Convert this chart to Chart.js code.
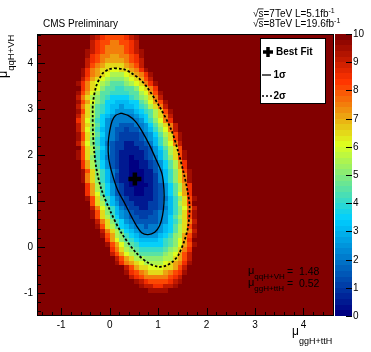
<!DOCTYPE html>
<html>
<head>
<meta charset="utf-8">
<script src="https://cdn.jsdelivr.net/npm/chart.js@4.4.1/dist/chart.umd.min.js"></script>
<style>
  html, body { margin: 0; padding: 0; background: #fff; }
  #wrap { width: 371px; height: 352px; position: relative; }
</style>
</head>
<body>
<div id="wrap"><canvas id="scan"></canvas></div>
<script>
const FONT = "'Liberation Sans', Arial, Helvetica, sans-serif";

// best fit point (mu_ggH+ttH, mu_qqH+VH)
const bestFitX = [0.52];
const bestFitY = [1.48];

// 68% CL contour
const sigma1X = [0.24, 0.38, 0.53, 0.66, 0.82, 0.95, 1.08, 1.12, 1.12, 1.09, 1.03, 0.93, 0.79, 0.66, 0.56, 0.45, 0.32, 0.16, 0.05, -0.02, -0.03, 0.00, 0.05, 0.12, 0.24];
const sigma1Y = [2.91, 2.86, 2.73, 2.53, 2.22, 1.92, 1.59, 1.25, 0.95, 0.68, 0.46, 0.32, 0.27, 0.31, 0.45, 0.66, 0.93, 1.25, 1.60, 1.93, 2.25, 2.52, 2.74, 2.86, 2.91];

// 95% CL contour
const sigma2X = [0.10, 0.30, 0.45, 0.62, 0.76, 1.03, 1.27, 1.42, 1.53, 1.61, 1.65, 1.62, 1.55, 1.42, 1.30, 1.15, 1.00, 0.80, 0.55, 0.24, 0.00, -0.17, -0.27, -0.32, -0.345, -0.35, -0.345, -0.28, -0.20, -0.14, -0.02, 0.10];
const sigma2Y = [3.89, 3.86, 3.78, 3.65, 3.49, 3.05, 2.55, 2.05, 1.60, 1.20, 0.88, 0.45, 0.16, -0.17, -0.32, -0.41, -0.43, -0.35, -0.13, 0.31, 0.81, 1.25, 1.68, 2.10, 2.48, 2.85, 3.13, 3.49, 3.68, 3.78, 3.86, 3.89];

const xTicks = [-1, 0, 1, 2, 3, 4];
const yTicks = [-1, 0, 1, 2, 3, 4];
const zTicks = [0, 1, 2, 3, 4, 5, 6, 7, 8, 9, 10];

// -2 dlnL scan, 0.1 x 0.1 bins. row 0 is the bin 4.6..4.7, next rows go down.
// nllStart = first listed column (column 0 is the bin -1.0..-0.9).
// one char per bin, value = index * 0.5 (0-9 then a..k, k = 10). bins not listed are >= 10
const levelChars = '0123456789abcdefghijk';
const nllStart = [6, 6, 6, 6, 5, 5, 5, 5, 4, 4, 4, 3, 4, 3, 3, 3, 3, 3, 3, 3, 3, 3, 3, 3, 3, 4, 3, 3, 4, 4,
                  4, 4, 4, 5, 5, 5, 5, 6, 6, 6, 6, 7, 7, 8, 8, 9, 9, 10, 10, 11, 11, 13, 13, 14, 15, 16, 18];
const nllRows = [
  'jihgggghij',
  'jihgggghij',
  'ihggffgghi',
  'ihgffffghi',
  'jihgffffghij',
  'jhgffeeffghj',
  'ihgfeeeefghi',
  'igfeddddefgi',
  'jhfeddccddefhj',
  'jhfedcbbbcdefhj',
  'igedcbaaabcdegi',
  'jhfdcba999abcdfhj',
  'hfdca998899acdfh',
  'jgecb99888899bcegj',
  'ifdba98777789abdfi',
  'jgeca977666779acegj',
  'ifdb98766566789bdfi',
  'jgdb987655556789bdgj',
  'ifdb976544445679bdfi',
  'hfca875444444578acfh',
  'ifdb9754433344579bdfi',
  'ifca8654332334568acfi',
  'jgdb97543222234579bdgj',
  'jgda86543222234568adgj',
  'ifca86432211223468acfi',
  'gdb975322111223579bdg',
  'jgdb865321111123568bdgj',
  'jgda864321101123468adgj',
  'heb9753211001123579beh',
  'heb9753211001123579beh',
  'jgda864311000113468adgj',
  'jfda864211000112468adfj',
  'jfda864211000112468adfj',
  'heb9753210000123579beh',
  'heb9753211001123579beh',
  'hec9753211001123579ceh',
  'jgda864321111123468adgj',
  'gdb865322111223568bdg',
  'ifca86432211223468acfi',
  'jgda86543222234568adgj',
  'jgdb97543322334579bdgj',
  'ifda8754333334578adfi',
  'jgdb9765443445679bdgj',
  'ifdb976544445679bdfi',
  'jgeba8765555678abegj',
  'heca9876666789aceh',
  'jgeca987777789acegj',
  'hfdba9888889abdfh',
  'igecba99999abcegi',
  'igedbbaaaabbdegi',
  'jhfedcbbbbcdefhj',
  'igeddcccddegi',
  'jhgfedddefghj',
  'ihgfffffghi',
  'jihgggghij',
  'jiihhiij',
  'jjjj'
];
const gridX0 = -1.0, gridYTop = 4.7, binSize = 0.1;

// ROOT style palette
const palStops = [0.00, 0.34, 0.61, 0.84, 1.00];
const palR = [0.00, 0.00, 0.87, 1.00, 0.51];
const palG = [0.00, 0.81, 1.00, 0.20, 0.00];
const palB = [0.51, 1.00, 0.12, 0.00, 0.00];
const nBands = 50;

function palette(t) {
  let k = 0;
  while (k < palStops.length - 2 && t > palStops[k + 1]) k++;
  const f = (t - palStops[k]) / (palStops[k + 1] - palStops[k]);
  const c = a => Math.round(255 * (a[k] + f * (a[k + 1] - a[k])));
  return `rgb(${c(palR)},${c(palG)},${c(palB)})`;
}
function bandColor(v) {
  let k = Math.floor(v / (10 / nBands) + 1e-9);
  if (k > nBands - 1) k = nBands - 1;
  if (k < 0) k = 0;
  return palette(k / (nBands - 1));
}
function nllAt(col, row) {
  if (row < 0 || row >= nllRows.length) return 10;
  const s = nllRows[row];
  const i = col - nllStart[row];
  if (i < 0 || i >= s.length) return 10;
  return levelChars.indexOf(s[i]) * 0.5;
}

const heatmap = {
  id: 'heatmap',
  beforeDatasetsDraw(chart) {
    const { ctx, chartArea: a, scales: { x, y } } = chart;
    ctx.save();
    ctx.beginPath();
    ctx.rect(a.left, a.top, a.right - a.left, a.bottom - a.top);
    ctx.clip();
    for (let row = -1; row < 63; row++) {
      const yHi = gridYTop - row * binSize;
      const y1 = Math.round(y.getPixelForValue(yHi));
      const y2 = Math.round(y.getPixelForValue(yHi - binSize));
      for (let col = -6; col < 58; col++) {
        const xLo = gridX0 + col * binSize;
        const x1 = Math.round(x.getPixelForValue(xLo));
        const x2 = Math.round(x.getPixelForValue(xLo + binSize));
        ctx.fillStyle = bandColor(nllAt(col, row));
        ctx.fillRect(x1, y1, x2 - x1, y2 - y1);
      }
    }
    ctx.restore();
  }
};

function subText(ctx, x, y, main, mainSize, sub, subSize, drop) {
  ctx.font = `${mainSize}px ${FONT}`;
  ctx.fillText(main, x, y);
  const w = ctx.measureText(main).width;
  ctx.font = `${subSize}px ${FONT}`;
  ctx.fillText(sub, x + w, y + drop);
}

const decor = {
  id: 'decor',
  afterDatasetsDraw(chart) {
    const { ctx, chartArea: a, scales: { x, y, z } } = chart;
    ctx.save();
    ctx.strokeStyle = '#000';
    ctx.fillStyle = '#000';
    ctx.lineWidth = 1;

    // inward ticks
    ctx.beginPath();
    for (let v = -1.4; v < 4.65; v += 0.2) {
      const major = xTicks.some(t => Math.abs(t - v) < 1e-6);
      const px = Math.round(x.getPixelForValue(v)) + 0.5;
      ctx.moveTo(px, a.bottom);
      ctx.lineTo(px, a.bottom - (major ? 8 : 4));
      const py = Math.round(y.getPixelForValue(v)) + 0.5;
      ctx.moveTo(a.left, py);
      ctx.lineTo(a.left + (major ? 8 : 4), py);
    }
    ctx.stroke();
    ctx.strokeRect(a.left + 0.5, a.top + 0.5, a.right - a.left - 1, a.bottom - a.top - 1);

    // colour scale
    const cbL = a.right + 1, cbR = a.right + 18;
    for (let k = 0; k < nBands; k++) {
      const v0 = k * 10 / nBands, v1 = (k + 1) * 10 / nBands;
      const p0 = Math.round(z.getPixelForValue(v0));
      const p1 = Math.round(z.getPixelForValue(v1));
      ctx.fillStyle = palette(k / (nBands - 1));
      ctx.fillRect(cbL, p1, cbR - cbL, p0 - p1);
    }
    ctx.fillStyle = '#000';
    ctx.strokeStyle = '#000';
    ctx.beginPath();
    ctx.font = `10px ${FONT}`;
    ctx.textAlign = 'left';
    ctx.textBaseline = 'middle';
    zTicks.forEach(v => {
      const py = Math.round(z.getPixelForValue(v)) + 0.5;
      ctx.moveTo(cbR, py);
      ctx.lineTo(cbR - 6, py);
      ctx.fillText(String(v), cbR + 1, py);
    });
    ctx.stroke();

    // header text
    ctx.textBaseline = 'alphabetic';
    ctx.font = `10px ${FONT}`;
    ctx.fillText('CMS Preliminary', 43, 27);
    const lumi = [['√s=7TeV L=5.1fb', 16.5], ['√s=8TeV L=19.6fb', 26.5]];
    lumi.forEach(([t, by]) => {
      ctx.font = `10px ${FONT}`;
      ctx.fillText(t, 253, by);
      const wr = ctx.measureText('√').width;
      const ws = ctx.measureText('s').width;
      ctx.fillRect(253 + wr - 0.5, by - 8, ws + 0.5, 0.8);
      const w = ctx.measureText(t).width;
      ctx.font = `7px ${FONT}`;
      ctx.fillText('-1', 253 + w, by - 4);
    });

    // axis titles
    subText(ctx, 292, 335, 'μ', 12, 'ggH+ttH', 9, 8.5);
    ctx.save();
    ctx.translate(7, 78);
    ctx.rotate(-Math.PI / 2);
    subText(ctx, 0, 0, 'μ', 12.5, 'qqH+VH', 9.5, 7);
    ctx.restore();

    // best fit values
    subText(ctx, 248, 274, 'μ', 11, 'qqH+VH', 8, 5);
    subText(ctx, 248, 286, 'μ', 11, 'ggH+ttH', 8, 5);
    ctx.font = `10.5px ${FONT}`;
    ctx.fillText('=  ' + bestFitY[0].toFixed(2), 287, 275);
    ctx.fillText('=  ' + bestFitX[0].toFixed(2), 287, 287);

    // legend
    ctx.fillStyle = '#fff';
    ctx.fillRect(260, 38, 66, 66);
    ctx.strokeRect(260.5, 38.5, 65, 65);
    ctx.fillStyle = '#000';
    ctx.lineWidth = 3.5;
    ctx.beginPath();
    ctx.moveTo(263, 52); ctx.lineTo(273, 52);
    ctx.moveTo(268, 47); ctx.lineTo(268, 57);
    ctx.stroke();
    ctx.lineWidth = 1.3;
    ctx.beginPath();
    ctx.moveTo(262, 75); ctx.lineTo(271, 75);
    ctx.stroke();
    ctx.setLineDash([2, 2]);
    ctx.lineWidth = 1.6;
    ctx.beginPath();
    ctx.moveTo(262, 96); ctx.lineTo(272, 96);
    ctx.stroke();
    ctx.setLineDash([]);
    ctx.font = `bold 10px ${FONT}`;
    ctx.textBaseline = 'middle';
    ctx.fillText('Best Fit', 276, 52);
    ctx.fillText('1σ', 273.5, 75);
    ctx.fillText('2σ', 273.5, 96);
    ctx.restore();
  }
};

Chart.defaults.font.family = FONT;
Chart.defaults.font.size = 10;
Chart.defaults.color = '#000';

const toPoints = (xs, ys) => xs.map((v, i) => ({ x: v, y: ys[i] }));

new Chart(document.getElementById('scan'), {
  type: 'scatter',
  data: {
    datasets: [
      {
        label: 'Best Fit',
        data: toPoints(bestFitX, bestFitY),
        pointStyle: 'cross',
        pointRadius: 6.5,
        borderWidth: 4.5,
        borderColor: '#000',
        backgroundColor: '#000'
      },
      {
        label: '1σ',
        data: toPoints(sigma1X, sigma1Y),
        showLine: true,
        tension: 0.3,
        borderColor: '#000',
        borderWidth: 1.3,
        pointRadius: 0
      },
      {
        label: '2σ',
        data: toPoints(sigma2X, sigma2Y),
        showLine: true,
        tension: 0.3,
        borderColor: '#000',
        borderWidth: 1.8,
        borderDash: [2.5, 2],
        pointRadius: 0
      }
    ]
  },
  options: {
    responsive: true,
    maintainAspectRatio: false,
    animation: false,
    events: [],
    layout: { padding: { top: 34, right: 37, left: 0, bottom: 0 } },
    plugins: { legend: { display: false }, tooltip: { enabled: false } },
    scales: {
      x: {
        type: 'linear',
        min: -1.5,
        max: 4.63,
        grid: { display: false, drawTicks: false },
        border: { display: false },
        ticks: { padding: 3, maxRotation: 0, autoSkip: false, font: { size: 10 } },
        afterBuildTicks: s => { s.ticks = xTicks.map(v => ({ value: v })); },
        afterFit: s => { s.height = 36; }
      },
      y: {
        type: 'linear',
        min: -1.5,
        max: 4.63,
        grid: { display: false, drawTicks: false },
        border: { display: false },
        ticks: { padding: 4, autoSkip: false, font: { size: 10 } },
        afterBuildTicks: s => { s.ticks = yTicks.map(v => ({ value: v })); },
        afterFit: s => { s.width = 37; }
      },
      z: {
        type: 'linear',
        axis: 'y',
        position: 'right',
        min: 0,
        max: 10,
        display: false
      }
    }
  },
  plugins: [heatmap, decor]
});
</script>
</body>
</html>
